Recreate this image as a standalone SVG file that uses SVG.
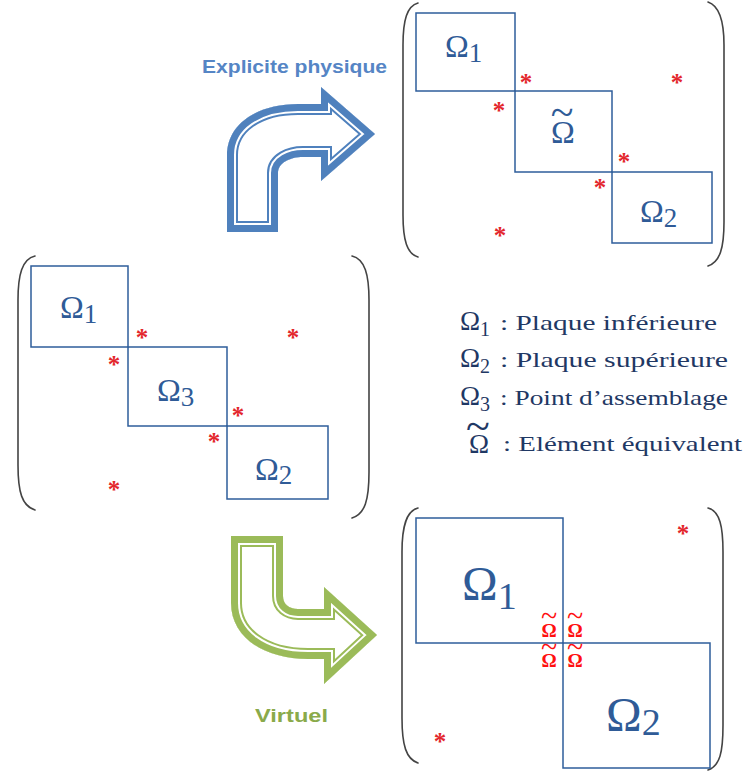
<svg xmlns="http://www.w3.org/2000/svg" xmlns:xlink="http://www.w3.org/1999/xlink" width="746" height="775" viewBox="0 0 746 775">
<style>
.box{fill:none;stroke:#2E5D9B;stroke-width:1.5}
.par{fill:none;stroke:#444;stroke-width:1.6;stroke-linecap:round}
.om{font-family:"Liberation Serif",serif;fill:#2F5B97}
.ast{font-family:"Liberation Serif",serif;font-size:25px;font-weight:bold;fill:#E3262B;text-anchor:middle}
.leg{font-family:"Liberation Serif",serif;font-size:22px;fill:#1F3864}
.legom{font-family:"Liberation Serif",serif;font-size:27px;fill:#1F3864}
.rt{font-family:"Liberation Serif",serif;font-size:19px;font-weight:bold;fill:#FF1010;text-anchor:middle}
</style>
<defs>
<path id="barrow" d="M227,232 L227,155 C227,124 257,104 298,104 L321,104 L321,87 L375,134 L321,181 L321,157 L303,157 C290,157 278,163 278,173 L278,232 Z"/>
<path id="garrow" d="M231,536 L283,536 L283,596 C283,604 289,609 298,609 L324,609 L324,587 L377,635 L324,684 L324,659 L308,659 C262,659 231,636 231,603 Z"/>
<clipPath id="cb"><use xlink:href="#barrow"/></clipPath>
<clipPath id="cg"><use xlink:href="#garrow"/></clipPath>
</defs>

<g id="arrow-explicit">
<g clip-path="url(#cb)">
<use xlink:href="#barrow" fill="#fff" stroke="#4F81BD" stroke-width="22"/>
<use xlink:href="#barrow" fill="none" stroke="#fff" stroke-width="18"/>
<use xlink:href="#barrow" fill="none" stroke="#4F81BD" stroke-width="14"/>
</g>
<text x="202" y="73" font-family="Liberation Sans, sans-serif" font-weight="bold" font-size="19" fill="#5585C5" textLength="185" lengthAdjust="spacingAndGlyphs">Explicite physique</text>
</g>

<g id="arrow-virtuel">
<g clip-path="url(#cg)">
<use xlink:href="#garrow" fill="#fff" stroke="#9BBB59" stroke-width="22"/>
<use xlink:href="#garrow" fill="none" stroke="#fff" stroke-width="18"/>
<use xlink:href="#garrow" fill="none" stroke="#9BBB59" stroke-width="14"/>
</g>
<text x="255" y="722" font-family="Liberation Sans, sans-serif" font-weight="bold" font-size="19" fill="#8AAA4A" textLength="73" lengthAdjust="spacingAndGlyphs">Virtuel</text>
</g>

<g id="matrix-top">
<path class="par" d="M418,3 C407,6 403,20 403,45 L403,215 C403,240 407,254 418,257"/>
<path class="par" d="M708,2 C720,6 724,22 724,45 L724,222 C724,248 720,262 708,266"/>
<rect class="box" x="416" y="13" width="99" height="78"/>
<rect class="box" x="515" y="91" width="97" height="81"/>
<rect class="box" x="612" y="172" width="100" height="71"/>
<text class="om" x="445" y="57" font-size="32">Ω<tspan font-size="27" dy="5">1</tspan></text>
<text class="om" text-anchor="middle"><tspan x="562" y="126" font-size="42">~</tspan><tspan x="563" y="143" font-size="32">Ω</tspan></text>
<text class="om" x="640" y="222" font-size="32">Ω<tspan font-size="27" dy="5">2</tspan></text>
<text class="ast" x="526" y="91">*</text>
<text class="ast" x="677" y="91">*</text>
<text class="ast" x="499" y="119">*</text>
<text class="ast" x="624" y="170">*</text>
<text class="ast" x="600" y="196">*</text>
<text class="ast" x="500" y="244">*</text>
</g>

<g id="matrix-left">
<path class="par" d="M35,256 C22,259 18,275 18,300 L18,465 C18,492 22,506 35,510"/>
<path class="par" d="M352,256 C365,259 369,275 369,300 L369,472 C369,500 365,514 352,518"/>
<rect class="box" x="31" y="266" width="97" height="81"/>
<rect class="box" x="128" y="347" width="99" height="79"/>
<rect class="box" x="227" y="426" width="101" height="73"/>
<text class="om" x="60" y="318" font-size="32">Ω<tspan font-size="27" dy="5">1</tspan></text>
<text class="om" x="157" y="401" font-size="32">Ω<tspan font-size="27" dy="5">3</tspan></text>
<text class="om" x="255" y="480" font-size="32">Ω<tspan font-size="27" dy="4">2</tspan></text>
<text class="ast" x="142" y="346">*</text>
<text class="ast" x="293" y="346">*</text>
<text class="ast" x="114" y="373">*</text>
<text class="ast" x="238" y="424">*</text>
<text class="ast" x="214" y="450">*</text>
<text class="ast" x="114" y="498">*</text>
</g>

<g id="legend">
<text class="legom" x="460" y="330">Ω<tspan font-size="20" dy="6">1</tspan></text>
<text class="leg" x="500" y="330" textLength="217" lengthAdjust="spacingAndGlyphs">: Plaque inférieure</text>
<text class="legom" x="460" y="367">Ω<tspan font-size="20" dy="6">2</tspan></text>
<text class="leg" x="500" y="367" textLength="228" lengthAdjust="spacingAndGlyphs">: Plaque supérieure</text>
<text class="legom" x="460" y="405">Ω<tspan font-size="20" dy="6">3</tspan></text>
<text class="leg" x="500" y="405" textLength="228" lengthAdjust="spacingAndGlyphs">: Point d’assemblage</text>
<text class="legom" text-anchor="middle"><tspan x="478" y="441" font-size="44">~</tspan><tspan x="479" y="453" font-size="27">Ω</tspan></text>
<text class="leg" x="503" y="451" textLength="239" lengthAdjust="spacingAndGlyphs">: Elément équivalent</text>
</g>

<g id="matrix-bottom">
<path class="par" d="M418,508 C406,511 402,527 402,552 L402,718 C402,745 406,759 418,763"/>
<path class="par" d="M708,508 C720,511 723,527 723,552 L723,725 C723,752 720,766 708,770"/>
<rect class="box" x="416" y="518" width="147" height="125"/>
<rect class="box" x="563" y="643" width="147" height="125"/>
<text class="om" x="462" y="600" font-size="48">Ω<tspan font-size="38" dy="9">1</tspan></text>
<text class="om" x="606" y="731" font-size="48">Ω<tspan font-size="38" dy="4">2</tspan></text>
<text class="rt"><tspan x="549" y="626" font-size="30" font-weight="normal">~</tspan><tspan x="549" y="637">Ω</tspan></text>
<text class="rt"><tspan x="575" y="626" font-size="30" font-weight="normal">~</tspan><tspan x="575" y="637">Ω</tspan></text>
<text class="rt"><tspan x="549" y="657" font-size="30" font-weight="normal">~</tspan><tspan x="549" y="667">Ω</tspan></text>
<text class="rt"><tspan x="575" y="657" font-size="30" font-weight="normal">~</tspan><tspan x="575" y="667">Ω</tspan></text>
<text class="ast" x="683" y="542">*</text>
<text class="ast" x="440" y="750">*</text>
</g>
</svg>
